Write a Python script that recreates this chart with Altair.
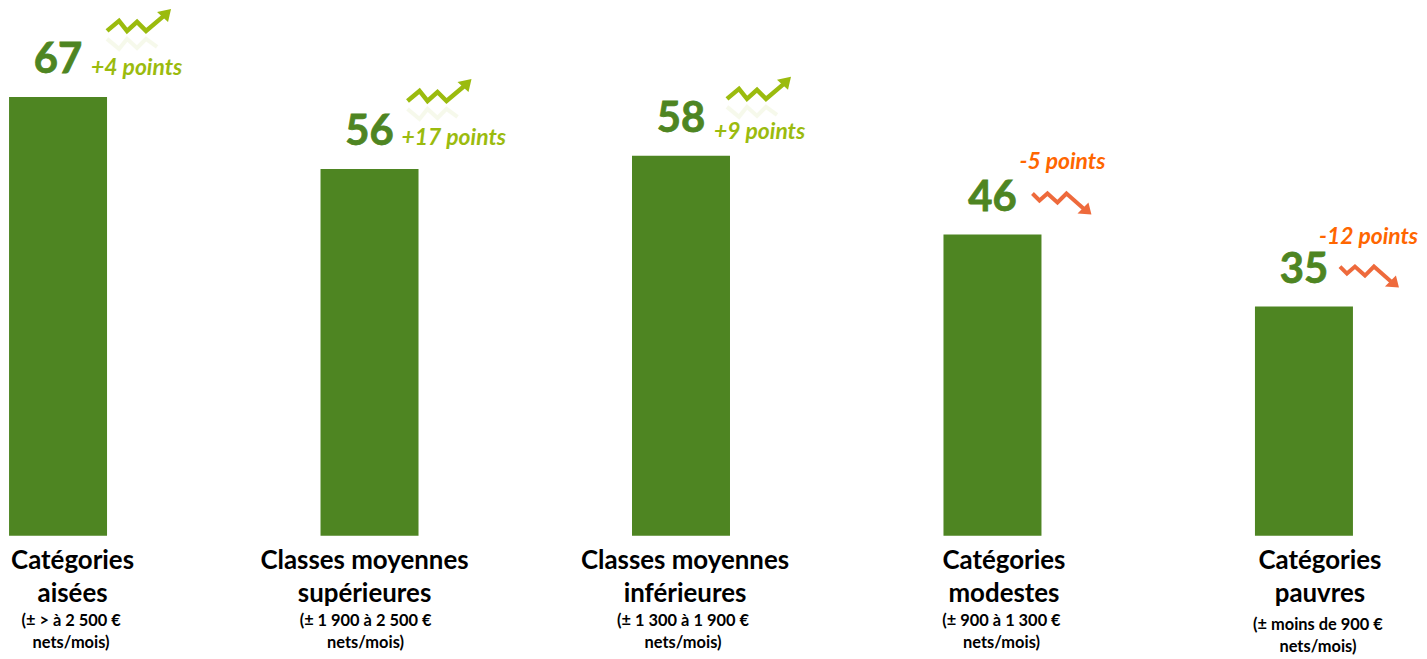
import altair as alt
import pandas as pd

# ---- values ----
categories = ["Catégories\naisées", "Classes moyennes\nsupérieures", "Classes moyennes\ninférieures",
              "Catégories\nmodestes", "Catégories\npauvres"]
incomes = ["(± > à 2 500 €\nnets/mois)", "(± 1 900 à 2 500 €\nnets/mois)", "(± 1 300 à 1 900 €\nnets/mois)",
           "(± 900 à 1 300 €\nnets/mois)", "(± moins de 900 €\nnets/mois)"]
values = [67, 56, 58, 46, 35]
changes = ["+4 points", "+17 points", "+9 points", "-5 points", "-12 points"]

GREEN, LIME, ORANGE, ARROW_ORANGE = "#4E8522", "#9BBB0E", "#FF6600", "#EE6A3C"
W, H = 1419, 651
K = 1.0056                    # page is slightly larger than the window
STEP, PX = 311.5 * K, 6.552 * K   # px per category, px per value unit
X0, Y0 = 58 * K - 8, 534 * K - 8  # first bar centre, baseline (chart px)
FONT = "Lato"

# layout, in pixels relative to bar centre / bar top / baseline
cat_dx = [14.5, -5, 4, 11.5, 16]
inc_dx = [13, -4, 2, 9, 14]
inc_dy = [77, 77, 77, 77, 81]
chg_dx = [33, 32, 33, 27, 15]
chg_dy = [-29, -31, -24, -72, -70]
arr_dx = [81, 70, 78, 69.5, 65.5]
arr_dy = [-81, -83, -72, -30.5, -29.5]

x_scale = alt.Scale(domain=[-X0 / STEP, (W - X0) / STEP], nice=False, zero=False, padding=0)
y_scale = alt.Scale(domain=[(Y0 - H) / PX, Y0 / PX], nice=False, zero=False, padding=0)
X = lambda f: alt.X(f"{f}:Q", scale=x_scale, axis=None)
Y = lambda f: alt.Y(f"{f}:Q", scale=y_scale, axis=None)

pos = list(range(5))
df = pd.DataFrame({
    "pos": pos, "value": values, "category": categories, "income": incomes, "change": changes,
    "rising": [v > 0 for v in [4, 17, 9, -5, -12]],
})
df["cat_x"] = [p + d * K / STEP for p, d in zip(pos, cat_dx)]
df["inc_x"] = [p + d * K / STEP for p, d in zip(pos, inc_dx)]
df["inc_y"] = [-d * K / PX for d in inc_dy]
df["chg_x"] = [p + d * K / STEP for p, d in zip(pos, chg_dx)]
df["chg_y"] = [v - d * K / PX for v, d in zip(values, chg_dy)]
df["arr_x"] = [p + d * K / STEP for p, d in zip(pos, arr_dx)]
df["arr_y"] = [v - d * K / PX for v, d in zip(values, arr_dy)]
df["zero"] = 0.0


def line_path(pts):
    return "M" + " L".join(f"{x / 32:.4f},{y / 32:.4f}" for x, y in pts)


def head_path(pts):
    return line_path(pts) + " Z"


UP_ZIG = [(-32, 15), (-20, 5), (-12, 15), (-2, 6), (7, 15), (26, -1)]
UP_HEAD = [(32, -7), (18, -4), (29, 6)]
UP_REFLECT = [(-32, 23), (-20, 33), (-12, 23), (-2, 32), (7, 23), (18, 31)]
DOWN_ZIG = [(-29.5, -10.5), (-22.5, -3.5), (-14.5, -10.5), (-4.5, -1.5), (4.5, -10.5), (21.5, 4.5)]
DOWN_HEAD = [(29.5, 10.5), (15.5, 9.5), (26.5, -1.5)]
SIZE = 64 * 64 * K * K

up = alt.Chart(df).transform_filter("datum.rising")
down = alt.Chart(df).transform_filter("!datum.rising")
enc = dict(x=X("arr_x"), y=Y("arr_y"))

layers = [
    alt.Chart(df).mark_bar(size=98 * K, color=GREEN).encode(x=X("pos"), y=Y("value"), y2=alt.Y2("zero")),
    alt.Chart(df).mark_text(color=GREEN, stroke=GREEN, strokeWidth=0.8, font=FONT, fontWeight="bold", fontSize=42, baseline="middle", dy=-37)
    .encode(x=X("pos"), y=Y("value"), text="value:Q"),
    alt.Chart(df).mark_text(font=FONT, fontWeight="bold", fontStyle="italic", fontSize=23, align="left", baseline="middle")
    .encode(x=X("chg_x"), y=Y("chg_y"), text="change:N",
            color=alt.Color("rising:N", scale=alt.Scale(domain=[True, False], range=[LIME, ORANGE]), legend=None)),
    alt.Chart(df).mark_text(color="black", font=FONT, fontWeight="bold", fontSize=26, baseline="top",
                            lineBreak="\n", lineHeight=34, dy=12)
    .encode(x=X("cat_x"), y=Y("zero"), text="category:N"),
    alt.Chart(df).mark_text(color="black", font=FONT, fontWeight="bold", fontSize=16.5, baseline="top",
                            lineBreak="\n", lineHeight=22)
    .encode(x=X("inc_x"), y=Y("inc_y"), text="income:N"),
    up.mark_point(shape=line_path(UP_REFLECT), size=SIZE, filled=False, stroke=LIME, strokeWidth=4, opacity=0.08).encode(**enc),
    up.mark_point(shape=line_path(UP_ZIG), size=SIZE, filled=False, stroke=LIME, strokeWidth=4.5, opacity=1).encode(**enc),
    up.mark_point(shape=head_path(UP_HEAD), size=SIZE, filled=True, fill=LIME, opacity=1).encode(**enc),
    down.mark_point(shape=line_path(DOWN_ZIG), size=SIZE, filled=False, stroke=ARROW_ORANGE, strokeWidth=4, opacity=1).encode(**enc),
    down.mark_point(shape=head_path(DOWN_HEAD), size=SIZE, filled=True, fill=ARROW_ORANGE, opacity=1).encode(**enc),
]

chart = alt.layer(*layers).properties(
    width=W, height=H, padding=0, autosize=alt.AutoSizeParams(type="none"),
).configure_view(stroke=None)

chart.save("out.html", embed_options={"renderer": "svg", "actions": False})
